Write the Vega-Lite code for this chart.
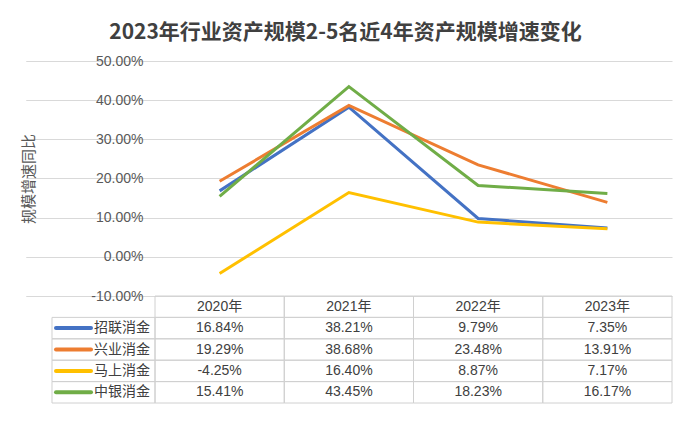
{
  "$schema": "https://vega.github.io/schema/vega-lite/v6.json",
  "width": 517,
  "height": 235,
  "autosize": {"type": "none"},
  "padding": {"left": 155, "top": 61, "right": 20, "bottom": 128},
  "background": "white",
  "title": {
    "text": "2023年行业资产规模2-5名近4年资产规模增速变化",
    "font": "Noto Sans CJK SC",
    "fontSize": 21,
    "fontWeight": "bold",
    "color": "#404040",
    "anchor": "middle",
    "dx": -68,
    "dy": 3,
    "offset": 14
  },
  "datasets": {
    "d": [
      {"series": "招联消金", "year": "2020年", "v": 0.1684},
      {"series": "招联消金", "year": "2021年", "v": 0.3821},
      {"series": "招联消金", "year": "2022年", "v": 0.0979},
      {"series": "招联消金", "year": "2023年", "v": 0.0735},
      {"series": "兴业消金", "year": "2020年", "v": 0.1929},
      {"series": "兴业消金", "year": "2021年", "v": 0.3868},
      {"series": "兴业消金", "year": "2022年", "v": 0.2348},
      {"series": "兴业消金", "year": "2023年", "v": 0.1391},
      {"series": "马上消金", "year": "2020年", "v": -0.0425},
      {"series": "马上消金", "year": "2021年", "v": 0.1640},
      {"series": "马上消金", "year": "2022年", "v": 0.0887},
      {"series": "马上消金", "year": "2023年", "v": 0.0717},
      {"series": "中银消金", "year": "2020年", "v": 0.1541},
      {"series": "中银消金", "year": "2021年", "v": 0.4345},
      {"series": "中银消金", "year": "2022年", "v": 0.1823},
      {"series": "中银消金", "year": "2023年", "v": 0.1617}
    ],
    "years": [
      {"year": "2020年"},
      {"year": "2021年"},
      {"year": "2022年"},
      {"year": "2023年"}
    ]
  },
  "data": {"name": "d"},
  "layer": [
    {
      "mark": {"type": "line", "strokeWidth": 3},
      "encoding": {
        "x": {
          "field": "year",
          "type": "nominal",
          "bandPosition": 0.5,
          "scale": {"type": "band", "domain": ["图例", "2020年", "2021年", "2022年", "2023年"], "range": [-129.25, 517], "paddingInner": 0, "paddingOuter": 0},
          "axis": null
        },
        "y": {
          "field": "v",
          "type": "quantitative",
          "scale": {"domain": [-0.1, 0.5], "nice": false, "zero": false},
          "axis": {
            "values": [-0.1, 0, 0.1, 0.2, 0.3, 0.4, 0.5],
            "format": ".2%",
            "title": "规模增速同比",
            "grid": true,
            "gridColor": "#d9d9d9",
            "gridWidth": 1,
            "domain": false,
            "ticks": false,
            "labelPadding": 12,
            "labelFont": "Liberation Sans",
            "labelFontSize": 14,
            "labelColor": "#595959",
            "titleFont": "Noto Sans CJK SC",
            "titleFontSize": 15,
            "titleFontWeight": "normal",
            "titleColor": "#595959",
            "titlePadding": 54
          }
        },
        "color": {
          "field": "series",
          "type": "nominal",
          "scale": {"domain": ["招联消金", "兴业消金", "马上消金", "中银消金"], "range": ["#4472C4", "#ED7D31", "#FFC000", "#70AD47"]},
          "legend": null
        }
      }
    },
    {
      "layer": [
        {
          "mark": {"type": "rect", "fill": "transparent", "stroke": "#d0d0d0", "strokeWidth": 1},
          "encoding": {
            "x": {"field": "year", "type": "nominal", "axis": null},
            "y": {"field": "series", "type": "nominal", "axis": null,
              "scale": {"type": "band", "domain": ["hdr", "招联消金", "兴业消金", "马上消金", "中银消金"], "range": [235, 342], "paddingInner": 0, "paddingOuter": 0}}
          }
        },
        {
          "data": {"name": "years"},
          "mark": {"type": "rect", "fill": "transparent", "stroke": "#d0d0d0", "strokeWidth": 1},
          "encoding": {
            "x": {"field": "year", "type": "nominal", "axis": null},
            "y": {"datum": "hdr", "type": "nominal", "axis": null}
          }
        },
        {
          "transform": [{"filter": "datum.year == '2020年'"}],
          "mark": {"type": "rect", "fill": "transparent", "stroke": "#d0d0d0", "strokeWidth": 1},
          "encoding": {
            "x": {"datum": "图例", "type": "nominal", "bandPosition": 0.203, "axis": null},
            "x2": {"datum": "图例", "bandPosition": 1},
            "y": {"field": "series", "type": "nominal", "axis": null}
          }
        },
        {
          "transform": [{"filter": "datum.year == '2020年'"}],
          "mark": {"type": "rule", "strokeWidth": 4, "strokeCap": "round"},
          "encoding": {
            "x": {"datum": "图例", "type": "nominal", "bandPosition": 0.234, "axis": null},
            "x2": {"datum": "图例", "bandPosition": 0.505},
            "y": {"field": "series", "type": "nominal", "bandPosition": 0.5, "axis": null},
            "color": {"field": "series", "type": "nominal", "legend": null}
          }
        },
        {
          "transform": [{"filter": "datum.year == '2020年'"}],
          "mark": {"type": "text", "align": "left", "baseline": "middle", "font": "Noto Sans CJK SC", "fontSize": 14, "color": "#404040"},
          "encoding": {
            "x": {"datum": "图例", "type": "nominal", "bandPosition": 0.528, "axis": null},
            "y": {"field": "series", "type": "nominal", "bandPosition": 0.5, "axis": null},
            "text": {"field": "series"}
          }
        },
        {
          "data": {"name": "years"},
          "mark": {"type": "text", "align": "center", "baseline": "middle", "font": "Liberation Sans, Noto Sans CJK SC", "fontSize": 14, "color": "#404040"},
          "encoding": {
            "x": {"field": "year", "type": "nominal", "bandPosition": 0.5, "axis": null},
            "y": {"datum": "hdr", "type": "nominal", "bandPosition": 0.5, "axis": null},
            "text": {"field": "year"}
          }
        },
        {
          "mark": {"type": "text", "align": "center", "baseline": "middle", "font": "Liberation Sans", "fontSize": 14, "color": "#404040"},
          "encoding": {
            "x": {"field": "year", "type": "nominal", "bandPosition": 0.5, "axis": null},
            "y": {"field": "series", "type": "nominal", "bandPosition": 0.5, "axis": null},
            "text": {"field": "v", "type": "quantitative", "format": ".2%"}
          }
        }
      ]
    }
  ],
  "resolve": {"scale": {"y": "independent"}},
  "config": {
    "view": {"stroke": null},
    "locale": {
      "number": {"decimal": ".", "thousands": ",", "grouping": [3], "currency": ["$", ""], "minus": "-"}
    }
  }
}
